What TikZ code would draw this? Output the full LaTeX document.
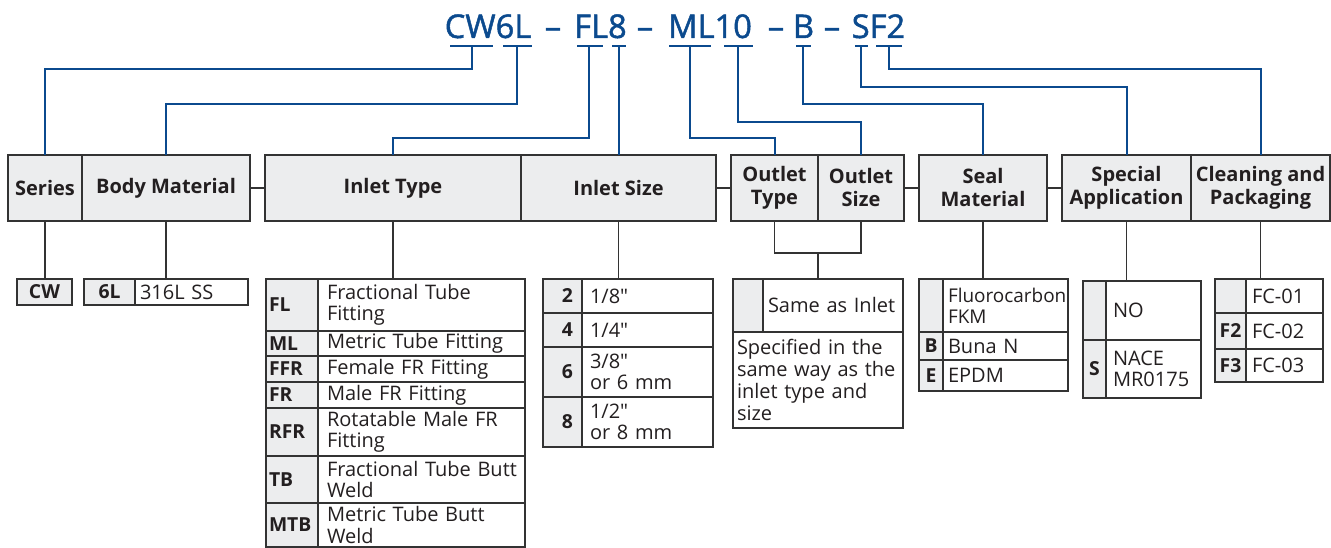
\documentclass[tikz,border=0pt]{standalone}
\usepackage{fontspec}
\setmainfont{Open Sans}[Ligatures=TeXOff]
\newfontfamily\codefont{Open Sans}[FakeBold=1.4]
\usetikzlibrary{calc}
\definecolor{codeblue}{HTML}{0B4A8E}
\definecolor{hdrgray}{HTML}{ECEDEE}
\definecolor{bordergray}{HTML}{333333}
\definecolor{txt}{HTML}{231F20}
\newcommand\mkhdr[6]{% name, x1,y1,x2,y2, text
  \node[hdrbox, minimum width={(#4-#2)*0.75pt}, minimum height={(#5-#3)*0.75pt}] (#1) at (#2,#3) {#6};}
\newcommand\mkcell[9]{% style, name, x1,y1,x2,y2, pad, align, text
  \node[#1, inner xsep={#7*0.75pt}, text width={(#5-#3-2*#7)*0.75pt}, align=#8, minimum height={(#6-#4)*0.75pt}] (#2) at (#3,#4) {#9};}
\begin{document}
\begin{tikzpicture}[x=0.75pt,y=-0.75pt,
  code/.style={text=codeblue, font=\codefont\fontsize{24.5}{28}\selectfont, inner sep=0pt, anchor=base},
  codeline/.style={draw=codeblue, line width=1.5pt},
  hdrbox/.style={draw=bordergray, fill=hdrgray, line width=1.1pt, text=txt, align=center,
    font=\bfseries\fontsize{15}{17.25}\selectfont, inner sep=0pt, outer sep=0pt, anchor=north west},
  keycell/.style={draw=bordergray, fill=hdrgray, line width=1pt, text=txt,
    font=\bfseries\fontsize{14.5}{15.75}\selectfont, inner ysep=0pt, outer sep=0pt, anchor=north west},
  valcell/.style={draw=bordergray, fill=white, line width=1pt, text=txt,
    font=\fontsize{15}{15.9}\selectfont, inner ysep=0pt, outer sep=0pt, anchor=north west},
  conn/.style={draw=bordergray, line width=1pt}]
\useasboundingbox (0,0) rectangle (1331,548);

% ---- code string
\node[code] (cA) at (488,38) {CW6L};
\node[code] (d1) at (553,38) {–};
\node[code] (cB) at (600.5,38) {FL8};
\node[code] (d2) at (645,38) {–};
\node[code] (cC) at (710,38) {ML10};
\node[code] (d3) at (776,38) {–};
\node[code] (cD) at (803.5,38) {B};
\node[code] (d4) at (832,38) {–};
\node[code] (cE) at (878.5,38) {SF2};

% underlines and tick points
\draw[codeline] (450,46) -- (493,46);
\draw[codeline] (503,46) -- (532,46);
\draw[codeline] (577,46) -- (603,46);
\draw[codeline] (612,46) -- (626,46);
\draw[codeline] (669,46) -- (711,46);
\draw[codeline] (724,46) -- (753,46);
\draw[codeline] (796,46) -- (811,46);
\draw[codeline] (855,46) -- (868,46);
\draw[codeline] (876,46) -- (902,46);
\coordinate (tCW) at (472,46);
\coordinate (tSL) at (517,46);
\coordinate (tFL) at (589,46);
\coordinate (tEI) at (619,46);
\coordinate (tML) at (690,46);
\coordinate (tTE) at (738,46);
\coordinate (tB) at (803,46);
\coordinate (tS) at (861,46);
\coordinate (tF) at (889,46);

% ---- header boxes
\mkhdr{series}{8}{155}{82}{221}{Series}
\mkhdr{body}{82}{155}{250}{221}{Body Material}
\mkhdr{inlettype}{265}{155}{521}{221}{Inlet Type}
\mkhdr{inletsize}{521}{155}{716}{221}{Inlet Size}
\mkhdr{outlettype}{731}{155}{818}{221}{Outlet\\Type}
\mkhdr{outletsize}{818}{155}{904}{221}{Outlet\\Size}
\mkhdr{seal}{919}{155}{1047}{221}{Seal\\Material}
\mkhdr{special}{1062}{155}{1191}{221}{Special\\Application}
\mkhdr{cleaning}{1191}{155}{1330}{221}{Cleaning and\\Packaging}

% ---- blue connectors
\draw[codeline] (tCW) -- ++(0,23) -| (series.north);
\draw[codeline] (tSL) -- ++(0,58) -| (body.north);
\draw[codeline] (tFL) -- ++(0,92) -| (inlettype.north);
\draw[codeline] (tEI) -- (tEI |- inletsize.north);
\draw[codeline] (tML) -- ++(0,92) -| (outlettype.north);
\draw[codeline] (tTE) -- ++(0,76) -| (outletsize.north);
\draw[codeline] (tB) -- ++(0,58) -| (seal.north);
\draw[codeline] (tS) -- ++(0,41) -| (special.north);
\draw[codeline] (tF) -- ++(0,23) -| (cleaning.north);

% ---- header links
\draw[conn] (body.east) -- (inlettype.west);
\draw[conn] (inletsize.east) -- (outlettype.west);
\draw[conn] (outletsize.east) -- (seal.west);
\draw[conn] (seal.east) -- (special.west);

% ---- tables
% Series
\mkcell{keycell}{kcw}{17}{279}{72}{305}{2}{center}{CW}
% Body
\mkcell{keycell}{ksl}{84}{279}{135}{305}{2}{center}{6L}
\mkcell{valcell}{vsl}{135}{279}{248}{305}{5}{left}{316L~SS}
% Inlet type
\mkcell{keycell}{kfl}{266}{279}{318}{331}{3}{left}{FL}
\mkcell{valcell}{vfl}{318}{279}{525}{331}{9}{left}{Fractional~Tube\\Fitting}
\mkcell{keycell}{kml}{266}{331}{318}{356}{3}{left}{ML}
\mkcell{valcell}{vml}{318}{331}{525}{356}{9}{left}{Metric~Tube~Fitting}
\mkcell{keycell}{kffr}{266}{356}{318}{382}{3}{left}{FFR}
\mkcell{valcell}{vffr}{318}{356}{525}{382}{9}{left}{Female~FR~Fitting}
\mkcell{keycell}{kfr}{266}{382}{318}{408}{3}{left}{FR}
\mkcell{valcell}{vfr}{318}{382}{525}{408}{9}{left}{Male~FR~Fitting}
\mkcell{keycell}{krfr}{266}{408}{318}{456}{3}{left}{RFR}
\mkcell{valcell}{vrfr}{318}{408}{525}{456}{9}{left}{Rotatable~Male~FR\\Fitting}
\mkcell{keycell}{ktb}{266}{456}{318}{503}{3}{left}{TB}
\mkcell{valcell}{vtb}{318}{456}{525}{503}{9}{left}{Fractional~Tube~Butt\\Weld}
\mkcell{keycell}{kmtb}{266}{503}{318}{547}{3}{left}{MTB}
\mkcell{valcell}{vmtb}{318}{503}{525}{547}{9}{left}{Metric~Tube~Butt\\Weld}
% Inlet size
\mkcell{keycell}{k2}{543}{279}{582}{313}{9}{right}{2}
\mkcell{valcell}{v2}{582}{279}{713}{313}{8}{left}{1/8"}
\mkcell{keycell}{k4}{543}{313}{582}{347}{9}{right}{4}
\mkcell{valcell}{v4}{582}{313}{713}{347}{8}{left}{1/4"}
\mkcell{keycell}{k6}{543}{347}{582}{397}{9}{right}{6}
\mkcell{valcell}{v6}{582}{347}{713}{397}{8}{left}{3/8"\\or~6~mm}
\mkcell{keycell}{k8}{543}{397}{582}{447}{9}{right}{8}
\mkcell{valcell}{v8}{582}{397}{713}{447}{8}{left}{1/2"\\or~8~mm}
% Outlet
\mkcell{keycell}{kout}{733}{279}{763}{332}{2}{center}{}
\mkcell{valcell}{vout}{763}{279}{903}{332}{5}{left}{Same~as~Inlet}
\mkcell{valcell}{vspec}{733}{332}{903}{428}{4}{left}{\fontsize{15}{16.5}\selectfont Specified~in~the\\same~way~as~the\\inlet~type~and\\size}
% Seal
\mkcell{keycell}{kfkm}{919}{279}{943}{332}{2}{center}{}
\mkcell{valcell}{vfkm}{943}{279}{1068}{332}{5}{left}{\fontsize{14.2}{15.9}\selectfont Fluorocarbon\\FKM}
\mkcell{keycell}{kb}{919}{332}{943}{360}{2}{center}{B}
\mkcell{valcell}{vb}{943}{332}{1068}{360}{5}{left}{Buna~N}
\mkcell{keycell}{ke}{919}{360}{943}{391}{2}{center}{E}
\mkcell{valcell}{ve}{943}{360}{1068}{391}{5}{left}{EPDM}
% Special
\mkcell{keycell}{kno}{1083}{281}{1106}{340}{2}{center}{}
\mkcell{valcell}{vno}{1106}{281}{1201}{340}{7}{left}{NO}
\mkcell{keycell}{ks}{1083}{340}{1106}{398}{2}{center}{S}
\mkcell{valcell}{vs}{1106}{340}{1201}{398}{7}{left}{NACE\\MR0175}
% Cleaning
\mkcell{keycell}{kfc1}{1215}{279}{1246}{313}{2}{center}{}
\mkcell{valcell}{vfc1}{1246}{279}{1323}{313}{6}{left}{FC-01}
\mkcell{keycell}{kf2}{1215}{313}{1246}{349}{2}{center}{F2}
\mkcell{valcell}{vf2}{1246}{313}{1323}{349}{6}{left}{FC-02}
\mkcell{keycell}{kf3}{1215}{349}{1246}{382}{2}{center}{F3}
\mkcell{valcell}{vf3}{1246}{349}{1323}{382}{6}{left}{FC-03}

% ---- grey connectors to tables
\draw[conn] (series.south) -- (series.south |- kcw.north);
\draw[conn] (body.south) -- (body.south |- ksl.north);
\draw[conn] (inlettype.south) -- (inlettype.south |- kfl.north);
\draw[conn] (inletsize.south) -- (inletsize.south |- k2.north);
\coordinate (omid) at (818,253);
\draw[conn] (outlettype.south) |- (omid) -| (outletsize.south);
\draw[conn] (omid) -- (omid |- kout.north);
\draw[conn] (seal.south) -- (seal.south |- kfkm.north);
\draw[conn] (special.south) -- (special.south |- kno.north);
\draw[conn] (cleaning.south) -- (cleaning.south |- kfc1.north);
\end{tikzpicture}
\end{document}
